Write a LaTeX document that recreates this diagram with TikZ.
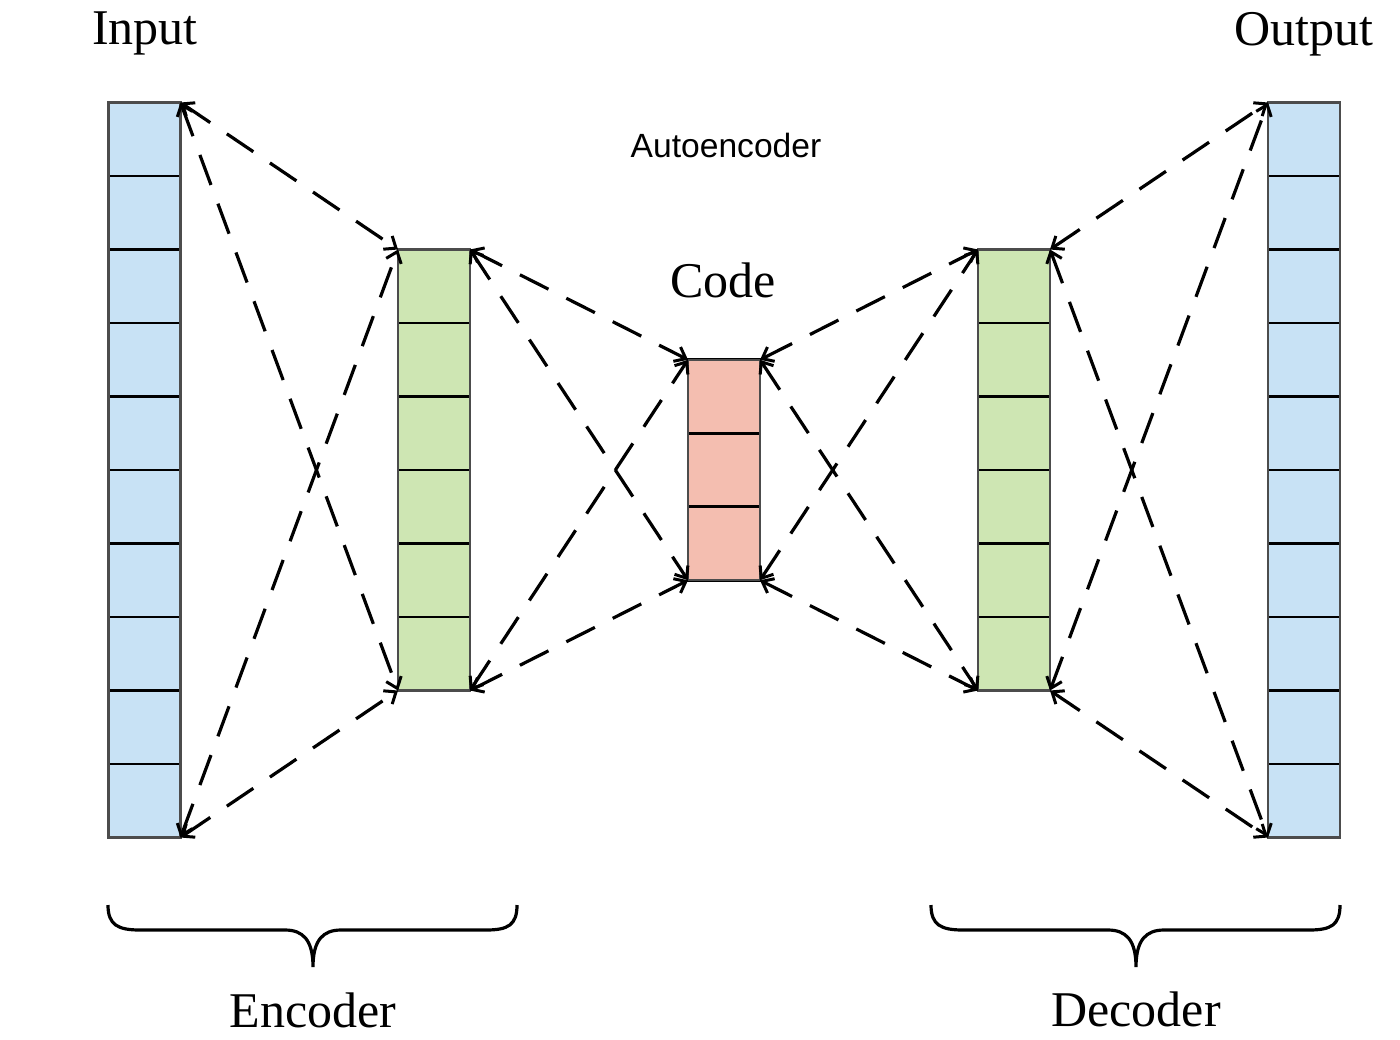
\documentclass[tikz,border=0pt]{standalone}
\usepackage{fontspec}
\setmainfont{Liberation Serif}
\setsansfont{Liberation Sans}
\usetikzlibrary{arrows.meta}
\definecolor{inblue}{RGB}{200,226,245}
\definecolor{hidgreen}{RGB}{206,230,179}
\definecolor{codepink}{RGB}{244,190,176}
\begin{document}
\begin{tikzpicture}[x=0.5pt,y=-0.5pt,
  cell/.style={draw=black, line width=1.4pt, minimum width=36pt, minimum height=36.75pt, inner sep=0pt, outer sep=0pt},
  col/.style={draw=black!70, line width=1.1pt, minimum width=36pt, inner sep=0pt, outer sep=0pt},
  link/.style={dash pattern=on 16pt off 10pt, line width=1.6pt,
    {Straight Barb[length=5pt,width=8pt,line width=1.5pt]}-{Straight Barb[length=5pt,width=8pt,line width=1.5pt]}},
  seriflabel/.style={font=\fontsize{25}{30}\selectfont, anchor=base, inner sep=0pt},
  curlybrace/.pic={
    \draw[line width=1.6pt] (-205,-62) .. controls (-205,-42) and (-195,-37) .. (-173,-37)
      -- (-28,-37) .. controls (-10,-37) and (0,-27) .. (0,0)
      .. controls (0,-27) and (10,-37) .. (28,-37) -- (173,-37)
      .. controls (195,-37) and (204,-42) .. (204,-62);
  }]
\useasboundingbox (0,0) rectangle (1400,1039);

% input column
\foreach \i in {1,...,10}
  \node[cell, fill=inblue] (in-\i) at (144.5, {102.5 + 73.5*(\i-0.5)}) {};
\node[col, minimum height=367.5pt] (in) at (144.5,470) {};
% encoder hidden
\foreach \i in {1,...,6}
  \node[cell, fill=hidgreen] (enc-\i) at (434, {249.5 + 73.5*(\i-0.5)}) {};
\node[col, minimum height=220.5pt] (enc) at (434,470) {};
% code
\foreach \i in {1,...,3}
  \node[cell, fill=codepink] (code-\i) at (724, {359.75 + 73.5*(\i-0.5)}) {};
\node[col, minimum height=110.25pt] (code) at (724,470) {};
% decoder hidden
\foreach \i in {1,...,6}
  \node[cell, fill=hidgreen] (dec-\i) at (1014, {249.5 + 73.5*(\i-0.5)}) {};
\node[col, minimum height=220.5pt] (dec) at (1014,470) {};
% output column
\foreach \i in {1,...,10}
  \node[cell, fill=inblue] (out-\i) at (1304, {102.5 + 73.5*(\i-0.5)}) {};
\node[col, minimum height=367.5pt] (out) at (1304,470) {};

% connectors
\draw[link] (in.north east) -- (enc.north west);
\draw[link] (in.north east) -- (enc.south west);
\draw[link] (in.south east) -- (enc.north west);
\draw[link] (in.south east) -- (enc.south west);
\draw[link] (enc.north east) -- (code.north west);
\draw[link] (enc.north east) -- (code.south west);
\draw[link] (enc.south east) -- (code.north west);
\draw[link] (enc.south east) -- (code.south west);
\draw[link] (code.north east) -- (dec.north west);
\draw[link] (code.north east) -- (dec.south west);
\draw[link] (code.south east) -- (dec.north west);
\draw[link] (code.south east) -- (dec.south west);
\draw[link] (dec.north east) -- (out.north west);
\draw[link] (dec.north east) -- (out.south west);
\draw[link] (dec.south east) -- (out.north west);
\draw[link] (dec.south east) -- (out.south west);

% labels
\node[seriflabel] (lin) at (145,44) {Input};
\node[seriflabel] (lout) at (1304,45) {Output};
\node[font=\sffamily\fontsize{16.8}{20}\selectfont, anchor=base, inner sep=0pt] (ltitle) at (726,157) {Autoencoder};
\node[seriflabel] (lcode) at (723,297) {Code};
\node[seriflabel] (lenc) at (313,1027) {Encoder};
\node[seriflabel] (ldec) at (1136,1026) {Decoder};

% braces
\pic at (313,967) {curlybrace};
\pic at (1136,967) {curlybrace};
\end{tikzpicture}
\end{document}
